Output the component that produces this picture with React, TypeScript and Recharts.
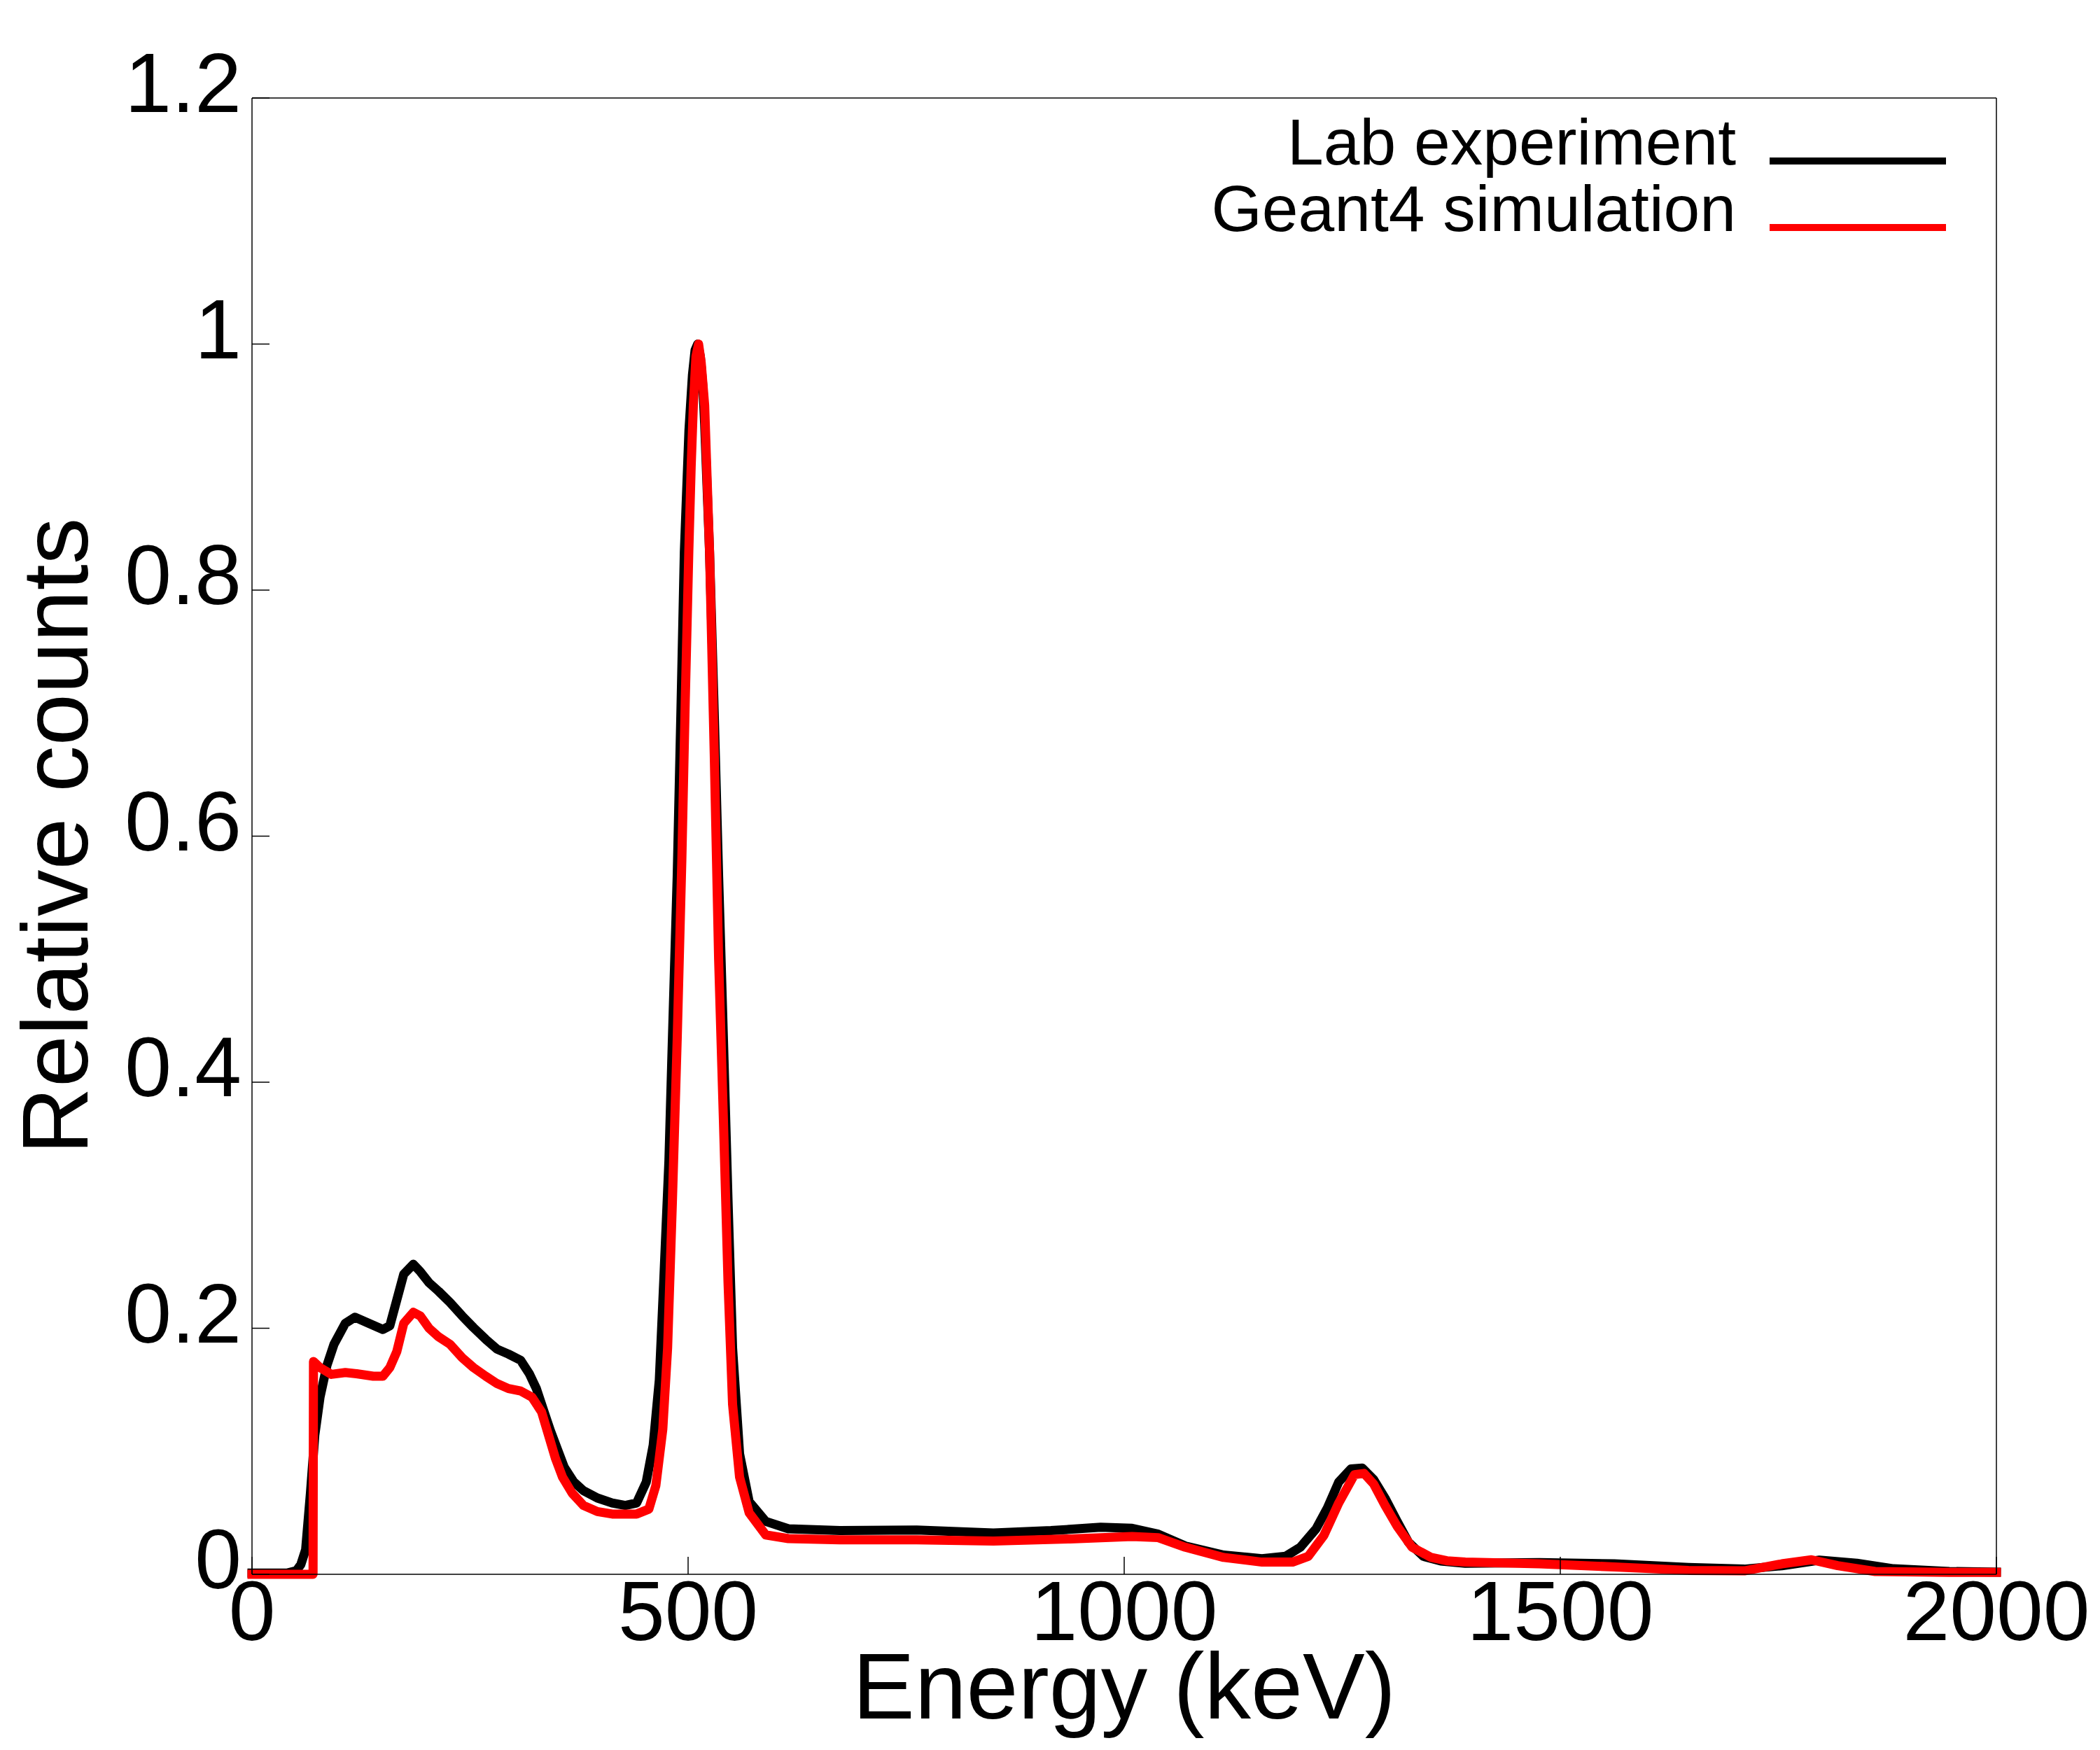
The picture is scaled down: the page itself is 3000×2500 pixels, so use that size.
import React from 'react';
import { LineChart, Line, XAxis, YAxis, Legend, Label } from 'recharts';

// Lab experiment (black)
const labEnergy = [
  0, 40, 51, 56, 61.5, 67, 72, 78, 86, 94, 107, 118, 134, 150, 158, 166, 174, 185, 193, 203,
  214, 227, 241, 254, 268, 281, 294, 308, 318, 326, 334, 342, 350, 358, 369, 380, 396, 413, 428, 441,
  452, 460, 467, 472, 478, 482, 487.5, 491.7, 495.7, 501, 505, 508, 511, 514, 517, 519, 524.6, 530, 535, 540.5,
  545.8, 551, 559, 570, 589, 615, 674, 762, 850, 916, 973, 1009, 1039, 1070, 1114, 1158, 1185, 1202, 1220, 1233,
  1246, 1260, 1273, 1286, 1299, 1313, 1326, 1343, 1363, 1391, 1476, 1562, 1647, 1711, 1754, 1797, 1840, 1882, 1946, 2000,
];
const labCounts = [
  0.001, 0.001, 0.003, 0.008, 0.02, 0.066, 0.113, 0.144, 0.17, 0.187, 0.204, 0.209, 0.204, 0.199, 0.202, 0.223, 0.244, 0.252, 0.246, 0.237,
  0.23, 0.221, 0.21, 0.2005, 0.191, 0.183, 0.179, 0.174, 0.163, 0.151, 0.134, 0.117, 0.102, 0.087, 0.075, 0.068, 0.062, 0.058, 0.056, 0.058,
  0.075, 0.105, 0.158, 0.237, 0.336, 0.435, 0.567, 0.699, 0.831, 0.93, 0.975, 0.995, 1.0, 0.99, 0.965, 0.935, 0.831, 0.699, 0.567, 0.435,
  0.303, 0.184, 0.098, 0.059, 0.043, 0.037, 0.0355, 0.036, 0.0336, 0.0355, 0.0383, 0.0374, 0.0326, 0.023, 0.0156, 0.0127, 0.0146, 0.022, 0.037, 0.054,
  0.075, 0.0857, 0.0863, 0.077, 0.062, 0.043, 0.026, 0.0146, 0.0108, 0.009, 0.0095, 0.0085, 0.0055, 0.0042, 0.007, 0.0115, 0.009, 0.0045, 0.0023, 0.0017,
];

// Geant4 simulation (red)
const simEnergy = [
  0, 70, 70.5, 78, 91, 107, 120, 139, 150, 158, 166, 174, 185, 193, 203, 214, 227, 241, 254, 268,
  281, 294, 308, 321, 332, 340, 348, 356, 367, 380, 396, 413, 441, 455, 463, 471, 476.5, 482, 487.5, 492.8,
  496.8, 500.8, 503.5, 506, 509, 512, 515, 519, 524.6, 530, 535, 540.5, 545.8, 551, 559, 570, 589, 615, 674, 762,
  850, 938, 1009, 1039, 1070, 1114, 1158, 1193, 1211, 1229, 1246, 1264, 1275, 1286, 1299, 1313, 1330, 1352, 1370, 1391,
  1476, 1562, 1647, 1711, 1754, 1788, 1818, 1861, 1946, 2000,
];
const simCounts = [
  0, 0, 0.173, 0.168, 0.1625, 0.164, 0.163, 0.161, 0.161, 0.168, 0.181, 0.204, 0.213, 0.21, 0.2, 0.193, 0.187, 0.176, 0.168, 0.161,
  0.155, 0.151, 0.149, 0.144, 0.132, 0.113, 0.094, 0.079, 0.066, 0.056, 0.051, 0.049, 0.049, 0.053, 0.072, 0.118, 0.184, 0.303, 0.435, 0.58,
  0.712, 0.831, 0.9, 0.95, 0.99, 1.0, 0.985, 0.95, 0.831, 0.666, 0.5, 0.369, 0.237, 0.138, 0.079, 0.05, 0.032, 0.029, 0.028, 0.028,
  0.027, 0.0288, 0.0307, 0.0298, 0.022, 0.0137, 0.0099, 0.0099, 0.0146, 0.0317, 0.058, 0.081, 0.082, 0.0734, 0.056, 0.039, 0.022, 0.0137, 0.011, 0.0099,
  0.0085, 0.006, 0.0032, 0.0028, 0.0085, 0.0118, 0.007, 0.0023, 0.0015, 0.0015,
];

const seriesNames = ['Lab experiment', 'Geant4 simulation'];
const xTicks = [0, 500, 1000, 1500, 2000];
const yTicks = [0, 0.2, 0.4, 0.6, 0.8, 1, 1.2];
const yTickLabels = ['0', '0.2', '0.4', '0.6', '0.8', '1', '1.2'];

const labData = labEnergy.map((e, i) => ({ energy: e, counts: labCounts[i] }));
const simData = simEnergy.map((e, i) => ({ energy: e, counts: simCounts[i] }));

const FONT = '"Liberation Sans", Arial, sans-serif';

const XTick = ({ x, y, payload }: any) => (
  <text x={x} y={y + 94} textAnchor="middle" fontSize={120} fontFamily={FONT} fill="#000">
    {payload.value}
  </text>
);

const YTick = ({ x, y, payload }: any) => (
  <text x={x} y={y + 20} textAnchor="end" fontSize={120} fontFamily={FONT} fill="#000">
    {yTickLabels[yTicks.indexOf(payload.value)] ?? payload.value}
  </text>
);

const NoTick = () => <g />;

const renderLegend = (props: any) => {
  const items = [...(props.payload || [])].sort(
    (a: any, b: any) => seriesNames.indexOf(a.value) - seriesNames.indexOf(b.value)
  );
  return (
    <svg width={1250} height={220}>
      {items.map((entry: any, i: number) => (
        <g key={i}>
          <text x={880} y={95 + i * 95} textAnchor="end" fontSize={93} fontFamily={FONT} fill="#000">
            {entry.value}
          </text>
          <line x1={928} x2={1180} y1={90 + i * 95} y2={90 + i * 95} stroke={entry.color} strokeWidth={10} />
        </g>
      ))}
    </svg>
  );
};

export default function App() {
  return (
    <div style={{ position: 'absolute', left: 0, top: 0, width: 3000, height: 2500, background: '#fff' }}>
      <LineChart width={3000} height={2500} margin={{ top: 0, right: 0, bottom: 0, left: 0 }}>
        <XAxis
          dataKey="energy"
          type="number"
          domain={[0, 2000]}
          ticks={xTicks}
          interval={0}
          height={251}
          tickSize={-25}
          tickMargin={25}
          tick={<XTick />}
          axisLine={{ stroke: '#000', strokeWidth: 1.5 }}
          tickLine={{ stroke: '#000', strokeWidth: 1.5 }}
        >
          <Label
            content={(p: any) => {
              const vb = p.viewBox || { x: 360, y: 2249, width: 2492 };
              return (
                <text x={vb.x + vb.width / 2} y={vb.y + 206} textAnchor="middle" fontSize={133} fontFamily={FONT} fill="#000">
                  Energy (keV)
                </text>
              );
            }}
          />
        </XAxis>
        <XAxis
          xAxisId="top"
          orientation="top"
          dataKey="energy"
          type="number"
          domain={[0, 2000]}
          ticks={xTicks}
          interval={0}
          height={140}
          tickSize={-25}
          tick={<NoTick />}
          axisLine={{ stroke: '#000', strokeWidth: 1.5 }}
          tickLine={{ stroke: '#000', strokeWidth: 1.5 }}
        />
        <YAxis
          type="number"
          domain={[0, 1.2]}
          ticks={yTicks}
          interval={0}
          width={360}
          tickSize={-25}
          tickMargin={40}
          tick={<YTick />}
          axisLine={{ stroke: '#000', strokeWidth: 1.5 }}
          tickLine={{ stroke: '#000', strokeWidth: 1.5 }}
        >
          <Label
            content={(p: any) => {
              const vb = p.viewBox || { x: 0, y: 140, width: 360, height: 2109 };
              const cx = vb.x + 125;
              const cy = vb.y + vb.height / 2;
              return (
                <text x={cx} y={cy} transform={`rotate(-90, ${cx}, ${cy})`} textAnchor="middle" fontSize={133} fontFamily={FONT} fill="#000">
                  Relative counts
                </text>
              );
            }}
          />
        </YAxis>
        <YAxis
          yAxisId="right"
          orientation="right"
          type="number"
          domain={[0, 1.2]}
          ticks={yTicks}
          interval={0}
          width={148}
          tickSize={-25}
          tick={<NoTick />}
          axisLine={{ stroke: '#000', strokeWidth: 1.5 }}
          tickLine={{ stroke: '#000', strokeWidth: 1.5 }}
        />
        <Legend
          layout="vertical"
          align="center"
          verticalAlign="middle"
          content={renderLegend}
          wrapperStyle={{ position: 'absolute', left: 1600, top: 140, width: 1250, height: 220 }}
        />
        <Line
          data={labData}
          dataKey="counts"
          name="Lab experiment"
          type="linear"
          stroke="#000"
          strokeWidth={13}
          strokeLinejoin="round"
          strokeLinecap="square"
          dot={false}
          activeDot={false}
          isAnimationActive={false}
        />
        <Line
          data={simData}
          dataKey="counts"
          name="Geant4 simulation"
          type="linear"
          stroke="#ff0000"
          strokeWidth={13}
          strokeLinejoin="round"
          strokeLinecap="square"
          dot={false}
          activeDot={false}
          isAnimationActive={false}
        />
      </LineChart>
    </div>
  );
}
